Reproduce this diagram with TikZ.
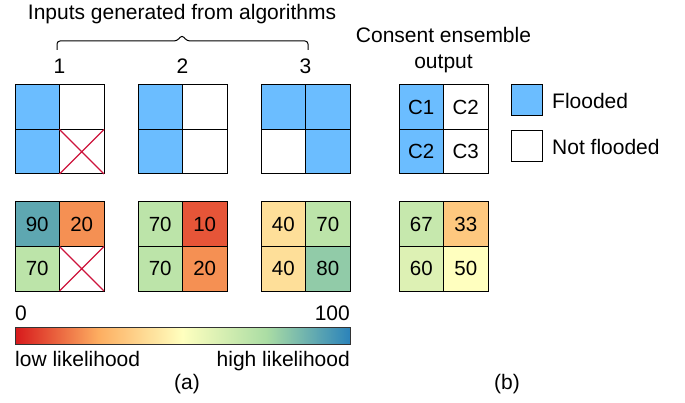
\documentclass[tikz,border=0pt]{standalone}
\usepackage{fontspec}
\setmainfont{Liberation Sans}
\usepackage{xcolor}
\usetikzlibrary{positioning}

\definecolor{sp0}{HTML}{D7191C}
\definecolor{sp25}{HTML}{FDAE61}
\definecolor{sp50}{HTML}{FFFFBF}
\definecolor{sp75}{HTML}{ABDDA4}
\definecolor{sp100}{HTML}{2B83BA}
\definecolor{flood}{RGB}{107,189,255}
\definecolor{crossred}{RGB}{205,20,60}
\colorlet{v10}{sp25!40!sp0}
\colorlet{v20}{sp25!80!sp0}
\colorlet{v33}{sp50!32!sp25}
\colorlet{v40}{sp50!60!sp25}
\colorlet{v50}{sp50}
\colorlet{v60}{sp75!40!sp50}
\colorlet{v67}{sp75!68!sp50}
\colorlet{v70}{sp75!80!sp50}
\colorlet{v80}{sp100!20!sp75}
\colorlet{v90}{sp100!60!sp75}

\pgfdeclarehorizontalshading{spectral}{100bp}{color(0bp)=(sp0); color(25bp)=(sp0); color(37.5bp)=(sp25); color(50bp)=(sp50); color(62.5bp)=(sp75); color(75bp)=(sp100); color(100bp)=(sp100)}

\tikzset{
  cell/.style={draw, line width=1pt, minimum size=44.5pt, inner sep=0pt, outer sep=0pt,
    font=\fontsize{20.5}{24}\selectfont},
  legbox/.style={draw, line width=1pt, minimum size=31pt, inner sep=0pt, outer sep=0pt},
  lbl/.style={inner sep=0pt, font=\fontsize{21}{26}\selectfont},
  crossline/.style={crossred, line width=1.2pt}
}

\begin{document}
\begin{tikzpicture}[x=1pt,y=-1pt]
	\useasboundingbox (0,0) rectangle (685,403);
	% titles
	\node[lbl] (title) at (182,14) {Inputs generated from algorithms};
	\draw[line width=1pt, rounded corners=3pt] (57,50)--(57,41)--(177,41)--(182,35)--(187,41)--(308,41)--(308,50);
	\node[lbl] (alg1) at (59.5,66.5) {1};
	\node[lbl] (alg2) at (182.5,66.5) {2};
	\node[lbl] (alg3) at (305.5,66.5) {3};
	\node[lbl, align=center, anchor=north] (consent) at (443.5,27) {Consent ensemble\\output};

	% flood maps
	\node[cell, fill=flood] (a1) at (37.25,107.25) {};
	\node[cell, right=0pt of a1] (a2) {};
	\node[cell, fill=flood, below=0pt of a1] (a3) {};
	\node[cell, right=0pt of a3] (a4) {};
	\node[cell, fill=flood] (b1) at (160.25,107.25) {};
	\node[cell, right=0pt of b1] (b2) {};
	\node[cell, fill=flood, below=0pt of b1] (b3) {};
	\node[cell, right=0pt of b3] (b4) {};
	\node[cell, fill=flood] (c1) at (283.25,107.25) {};
	\node[cell, fill=flood, right=0pt of c1] (c2) {};
	\node[cell, below=0pt of c1] (c3) {};
	\node[cell, fill=flood, right=0pt of c3] (c4) {};
	\node[cell, fill=flood] (e1) at (421.25,107.25) {C1};
	\node[cell, right=0pt of e1] (e2) {C2};
	\node[cell, fill=flood, below=0pt of e1] (e3) {C2};
	\node[cell, right=0pt of e3] (e4) {C3};

	% likelihood maps
	\node[cell, fill=v90] (p1) at (37.25,224.25) {90};
	\node[cell, fill=v20, right=0pt of p1] (p2) {20};
	\node[cell, fill=v70, below=0pt of p1] (p3) {70};
	\node[cell, right=0pt of p3] (p4) {};
	\node[cell, fill=v70] (q1) at (160.25,224.25) {70};
	\node[cell, fill=v10, right=0pt of q1] (q2) {10};
	\node[cell, fill=v70, below=0pt of q1] (q3) {70};
	\node[cell, fill=v20, right=0pt of q3] (q4) {20};
	\node[cell, fill=v40] (r1) at (283.25,224.25) {40};
	\node[cell, fill=v70, right=0pt of r1] (r2) {70};
	\node[cell, fill=v40, below=0pt of r1] (r3) {40};
	\node[cell, fill=v80, right=0pt of r3] (r4) {80};
	\node[cell, fill=v67] (s1) at (421.25,224.25) {67};
	\node[cell, fill=v33, right=0pt of s1] (s2) {33};
	\node[cell, fill=v60, below=0pt of s1] (s3) {60};
	\node[cell, fill=v50, right=0pt of s3] (s4) {50};

	% missing cells
	\draw[crossline] (a4.north west)--(a4.south east) (a4.north east)--(a4.south west);
	\draw[crossline] (p4.north west)--(p4.south east) (p4.north east)--(p4.south west);

	% legend
	\node[legbox, fill=flood] (legf) at (526.5,100.5) {};
	\node[legbox] (legn) at (526.5,146.5) {};
	\node[lbl, right=10pt of legf] (legftxt) {Flooded};
	\node[lbl, right=10pt of legn] (legntxt) {Not flooded};

	% colour bar
	\shade[shading=spectral] (15,327) rectangle (350,344);
	\draw[line width=1pt, black!80] (15,327) rectangle (350,344);
	\node[lbl, anchor=base west] (zero) at (15,320) {0};
	\node[lbl, anchor=base east] (hundred) at (350,320) {100};
	\node[lbl, anchor=base west] (low) at (15,366) {low likelihood};
	\node[lbl, anchor=base east] (high) at (350,366) {high likelihood};
	\node[lbl, anchor=base] (capa) at (187,389) {(a)};
	\node[lbl, anchor=base] (capb) at (507,389) {(b)};
\end{tikzpicture}
\end{document}
